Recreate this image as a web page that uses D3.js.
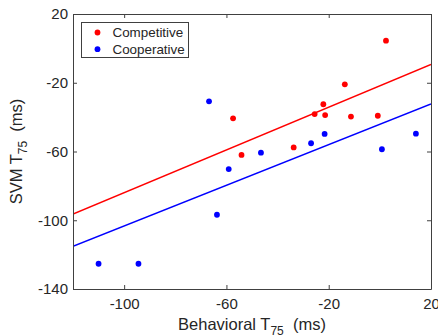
<!DOCTYPE html>
<html>
<head>
<meta charset="utf-8">
<script src="https://cdn.jsdelivr.net/npm/d3@7"></script>
<style>
  body { margin: 0; background: #fff; }
  text { font-family: "Liberation Sans", Arial, Helvetica, sans-serif; fill: #262626; }
</style>
</head>
<body>
<div class="d3Chart"></div>
<script>
// data
var competitiveX = [2.4, -13.7, -22.1, -25.5, -21.4, -11.3, -0.8, -57.4, -54.1, -33.7];
var competitiveY = [4.5, -20.9, -32.5, -38.2, -38.8, -39.7, -39.2, -40.7, -62, -57.6];
var cooperativeX = [-66.8, -59.1, -46.5, -26.9, -21.6, 0.8, 14.1, -63.7, -110, -94.4];
var cooperativeY = [-30.8, -70.2, -60.7, -55.2, -49.8, -58.7, -49.6, -96.8, -125.3, -125.3];
// fitted lines, ends at the x limits
var fitX = [-120, 20];
var competitiveFit = [-96.4, -9.3];
var cooperativeFit = [-115.2, -32.4];
var xTicks = [-100, -60, -20, 20];
var yTicks = [-140, -100, -60, -20, 20];
var seriesNames = ["Competitive", "Cooperative"];
var seriesColors = ["#ff0000", "#0000ff"];

var width = 438;
var height = 335;
var margin = { left: 73, top: 14, right: 7, bottom: 46 };
var w = width - margin.left - margin.right;
var h = height - margin.top - margin.bottom;

var svg = d3
  .select(".d3Chart")
  .append("svg")
  .attr("width", width)
  .attr("height", height);

var chart = svg
  .append("g")
  .attr("transform", `translate(${margin.left}, ${margin.top})`);

var x = d3.scaleLinear().domain([-120, 20]).range([0, w]);
var y = d3.scaleLinear().domain([-140, 20]).range([h, 0]);

svg
  .append("defs")
  .append("clipPath")
  .attr("id", "plotClip")
  .append("rect")
  .attr("width", w)
  .attr("height", h);

// fit lines
var line = d3
  .line()
  .x((d) => x(d[0]))
  .y((d) => y(d[1]));

var fits = [competitiveFit, cooperativeFit];
chart
  .append("g")
  .attr("clip-path", "url(#plotClip)")
  .selectAll("path")
  .data(fits)
  .enter()
  .append("path")
  .attr("fill", "none")
  .attr("stroke", (d, i) => seriesColors[i])
  .attr("stroke-width", 1.5)
  .attr("d", (d) => line(fitX.map((v, j) => [v, d[j]])));

// points
var groups = [
  competitiveX.map((v, i) => [v, competitiveY[i]]),
  cooperativeX.map((v, i) => [v, cooperativeY[i]]),
];
groups.forEach(function (pts, k) {
  chart
    .append("g")
    .selectAll("circle")
    .data(pts)
    .enter()
    .append("circle")
    .attr("cx", (d) => x(d[0]))
    .attr("cy", (d) => y(d[1]))
    .attr("r", 2.9)
    .attr("fill", seriesColors[k]);
});

// axes (ticks pointing inward, box on)
var axisColor = "#404040";
var plainNum = (d) => String(d); // hyphen minus like the original
function styleAxis(g) {
  g.selectAll(".domain").attr("stroke", axisColor).attr("stroke-width", 1);
  g.selectAll(".tick line").attr("stroke", axisColor);
  g.selectAll(".tick text")
    .style("font-size", "15px")
    .attr("fill", "#262626");
}

chart
  .append("g")
  .attr("transform", `translate(0, ${h})`)
  .call(
    d3.axisBottom(x).tickValues(xTicks).tickFormat(plainNum)
      .tickSize(-4).tickSizeOuter(0).tickPadding(9)
  )
  .call(styleAxis);

chart
  .append("g")
  .call(
    d3.axisLeft(y).tickValues(yTicks).tickFormat(plainNum)
      .tickSize(-4).tickSizeOuter(0).tickPadding(5)
  )
  .call(styleAxis);

chart
  .append("g")
  .call(d3.axisTop(x).tickValues(xTicks).tickSize(-4).tickSizeOuter(0).tickFormat(""))
  .call(styleAxis);

chart
  .append("g")
  .attr("transform", `translate(${w}, 0)`)
  .call(d3.axisRight(y).tickValues(yTicks).tickSize(-4).tickSizeOuter(0).tickFormat(""))
  .call(styleAxis);

// axis labels
var xLabel = svg
  .append("text")
  .attr("x", margin.left + w / 2)
  .attr("y", 330)
  .attr("text-anchor", "middle")
  .style("font-size", "16.5px");
xLabel.append("tspan").text("Behavioral T");
xLabel.append("tspan").attr("dy", 5).style("font-size", "12px").text("75");
xLabel.append("tspan").attr("dy", -5).text("\u00a0\u00a0(ms)");

var yLabel = svg
  .append("text")
  .attr("transform", `translate(22, ${margin.top + h / 2}) rotate(-90)`)
  .attr("text-anchor", "middle")
  .style("font-size", "16.5px");
yLabel.append("tspan").text("SVM T");
yLabel.append("tspan").attr("dy", 5).style("font-size", "12px").text("75");
yLabel.append("tspan").attr("dy", -5).text("\u00a0\u00a0(ms)");

// legend
var legend = svg.append("g").attr("transform", "translate(81.5, 22.5)");
legend
  .append("rect")
  .attr("width", 107)
  .attr("height", 35)
  .attr("fill", "#fff")
  .attr("stroke", axisColor)
  .attr("stroke-width", 1);
var items = legend
  .selectAll(".item")
  .data(seriesNames)
  .enter()
  .append("g")
  .attr("class", "item")
  .attr("transform", (d, i) => `translate(0, ${10 + i * 16.7})`);
items
  .append("circle")
  .attr("cx", 16)
  .attr("cy", 0)
  .attr("r", 2.9)
  .attr("fill", (d, i) => seriesColors[i]);
items
  .append("text")
  .attr("x", 31)
  .attr("dy", "0.35em")
  .style("font-size", "13.4px")
  .text((d) => d);
</script>
</body>
</html>
